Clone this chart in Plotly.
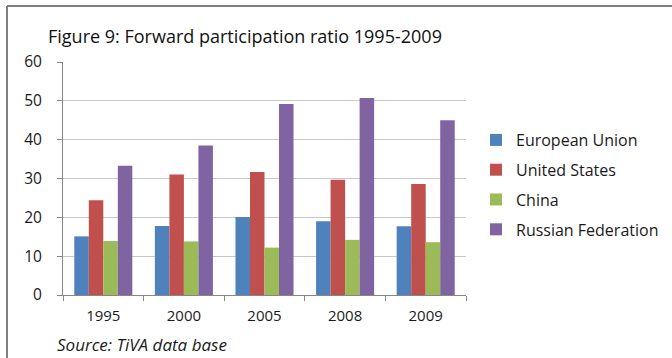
import plotly.graph_objects as go

years = ["1995", "2000", "2005", "2008", "2009"]
series_names = ["European Union", "United States", "China", "Russian Federation"]
eu = [15.1, 17.8, 20.1, 19.0, 17.7]
us = [24.4, 31.0, 31.7, 29.7, 28.6]
china = [13.9, 13.8, 12.2, 14.2, 13.6]
russia = [33.3, 38.5, 49.2, 50.7, 45.0]
colors = ["#4F81BD", "#C0504D", "#9BBB59", "#8064A2"]

FONT = "Open Sans"
TEXT = "#1a1a1a"

fig = go.Figure()
for name, vals, col in zip(series_names, [eu, us, china, russia], colors):
    fig.add_trace(go.Bar(
        x=years, y=vals, name=name, legendgroup=name,
        marker=dict(color=col, line=dict(width=0)),
    ))

W, H = 672, 358
L, R, T, B = 63, 206, 62, 63
pw = W - L - R
ph = H - T - B

def px_x(p):
    return (p - L) / pw

def px_y(p):
    return (H - B - p) / ph

fig.update_layout(
    width=W, height=H,
    margin=dict(l=L, r=R, t=T, b=B, autoexpand=False),
    paper_bgcolor="white", plot_bgcolor="white",
    barmode="group", bargap=0.28, bargroupgap=0,
    font=dict(family=FONT, color=TEXT, size=14),
    showlegend=True,
    legend=dict(
        x=px_x(476), y=px_y(123), xanchor="left", yanchor="top",
        font=dict(size=16, family=FONT, color=TEXT),
        tracegroupgap=6, bgcolor="rgba(0,0,0,0)",
    ),
    xaxis=dict(
        showline=True, linecolor="#868686", linewidth=1,
        ticks="outside", tickson="boundaries", ticklen=5, tickcolor="#868686",
        ticklabelstandoff=7,
        tickfont=dict(size=15, family=FONT, color=TEXT),
        showgrid=False,
    ),
    yaxis=dict(
        range=[0, 60], dtick=10,
        showline=True, linecolor="#868686", linewidth=1,
        ticks="outside", ticklen=5, tickcolor="#868686",
        ticklabelstandoff=12,
        showgrid=True, gridcolor="#c8c8c8", gridwidth=1,
        zeroline=False,
        tickfont=dict(size=15.5, family=FONT, color=TEXT),
    ),
    annotations=[
        dict(text="Figure 9: Forward participation ratio 1995-2009",
             xref="paper", yref="paper", x=px_x(46), y=px_y(36),
             xanchor="left", yanchor="middle", showarrow=False,
             font=dict(size=18, family=FONT, color="#111111")),
        dict(text="<i>Source: TiVA data base</i>",
             xref="paper", yref="paper", x=px_x(55), y=px_y(344),
             xanchor="left", yanchor="middle", showarrow=False,
             font=dict(size=17, family=FONT, color=TEXT)),
    ],
    shapes=[
        # outer frame (top and left edges visible)
        dict(type="line", xref="paper", yref="paper",
             x0=px_x(7), x1=px_x(700), y0=px_y(6), y1=px_y(6),
             line=dict(color="#7f7f7f", width=2)),
        dict(type="line", xref="paper", yref="paper",
             x0=px_x(7), x1=px_x(7), y0=px_y(6), y1=px_y(400),
             line=dict(color="#7f7f7f", width=2)),
    ],
)

fig.write_html("out.html")
